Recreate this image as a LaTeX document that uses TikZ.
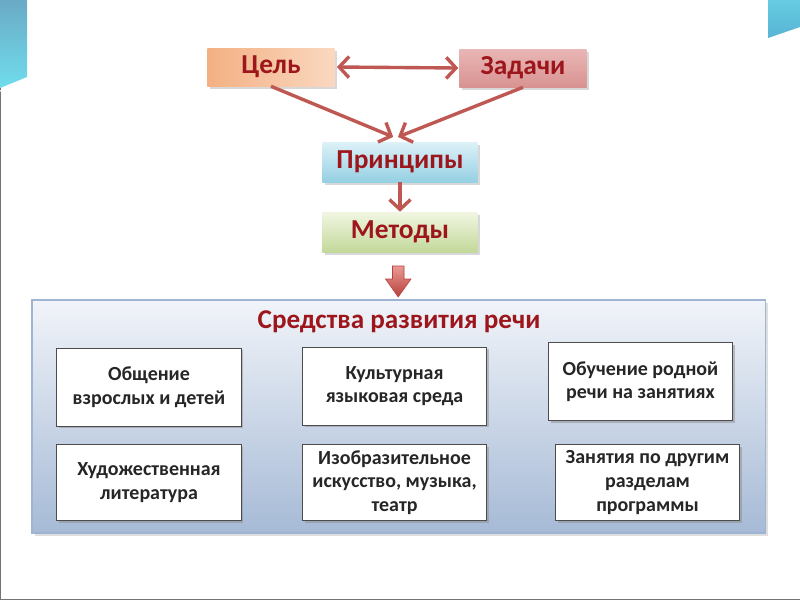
\documentclass[tikz,border=0pt]{standalone}
\usepackage{fontspec}
\setmainfont{Carlito}
\usetikzlibrary{arrows.meta,shadows}

\definecolor{titlered}{HTML}{9C161C}
\definecolor{linkred}{HTML}{BF5752}
\definecolor{decoA}{HTML}{6AAAC6}
\definecolor{decoB}{HTML}{70DDEC}
\definecolor{decoC}{HTML}{58B4D4}
\definecolor{tselA}{HTML}{F3B083}
\definecolor{tselB}{HTML}{FAD8C0}
\definecolor{zadA}{HTML}{E9B7B6}
\definecolor{zadB}{HTML}{D89391}
\definecolor{prinA}{HTML}{DDF1F8}
\definecolor{prinB}{HTML}{95D0E3}
\definecolor{metA}{HTML}{F1F6E2}
\definecolor{metB}{HTML}{C3D89A}
\definecolor{panelA}{HTML}{F1F4F9}
\definecolor{panelB}{HTML}{A6BAD6}
\definecolor{panelline}{HTML}{9FB4D3}
\definecolor{bigA}{HTML}{E99A93}
\definecolor{bigB}{HTML}{B8403C}

\tikzset{
  head/.style={text=titlered, font=\fontsize{19.5}{22}\selectfont\bfseries,
    minimum width=3.18cm, minimum height=0.95cm,
    drop shadow={shadow xshift=0.07cm, shadow yshift=-0.07cm, fill=black!30}},
  item/.style={draw=black!70, fill=white, line width=0.7pt, align=center,
    text=black!85, font=\fontsize{14.2}{16.8}\selectfont\bfseries,
    minimum width=4.6cm, minimum height=1.95cm,
    drop shadow={shadow xshift=0.06cm, shadow yshift=-0.06cm, fill=black!45}},
  link/.style={draw=linkred, line width=2.4pt,
    -{Straight Barb[length=7pt,width=15pt]}},
}

\begin{document}
\begin{tikzpicture}[x=0.025cm,y=-0.025cm]
\useasboundingbox (0,0) rectangle (800,600);
\fill [white] (0,0) rectangle (800,600);
\draw [black!55, line width=0.6pt] (0.3,0) -- (0.3,599.7) -- (800,599.7);
\shade [top color=decoA, bottom color=decoB] (0,0) -- (27,0) -- (27,77) -- (0,88) -- cycle;
\draw [white, line width=0.8pt] (0,91) -- (27,80);
\shade [top color=decoB!60!decoC, bottom color=decoC] (768,0) -- (800,0) -- (800,27) -- (768,38) -- cycle;

% top of the scheme
\node [head, left color=tselA, right color=tselB]                  (tsel)    at (271,67) {Цель};
\node [head, top color=zadA, bottom color=zadB]                    (zadachi) at (523,68) {Задачи};
\node [head, minimum width=3.88cm, minimum height=1.0cm,
       top color=prinA, bottom color=prinB]                        (prin)    at (400,162) {Принципы};
\node [head, minimum width=3.88cm, minimum height=1.0cm,
       top color=metA, bottom color=metB]                          (metody)  at (400,232) {Методы};

\draw [link, {Straight Barb[length=7pt,width=15pt]}-{Straight Barb[length=7pt,width=15pt]}]
    ([xshift=0.05cm]tsel.east) -- ([xshift=-0.02cm]zadachi.west);
\draw [link] (tsel.south) -- ([xshift=-0.17cm,yshift=0.12cm]prin.north);
\draw [link] (zadachi.south) -- ([xshift=-0.05cm,yshift=0.12cm]prin.north);
\draw [link] (prin.south) -- (metody.north);

% big arrow down
\shade [top color=bigA, bottom color=bigB, draw=bigB, line width=0.4pt]
    (392.5,266) -- (404,266) -- (404,279) -- (411,279) -- (398.2,297)
    -- (385.5,279) -- (392.5,279) -- cycle;

% panel
\node [draw=panelline, line width=1pt, top color=panelA, bottom color=panelB,
       minimum width=18.33cm, minimum height=5.83cm,
       drop shadow={shadow xshift=0.08cm, shadow yshift=-0.08cm, fill=black!25}] (panel) at (398.5,416.5) {};
\node [text=titlered, font=\fontsize{19.3}{22}\selectfont\bfseries] (sredstva) at (399,322) {Средства развития речи};

\node [item] (b1) at (149,387)   {Общение\\ взрослых и детей};
\node [item] (b2) at (394.5,386) {Культурная\\ языковая среда};
\node [item] (b3) at (640.5,381.5) {Обучение родной\\ речи на занятиях};
\node [item, minimum height=1.88cm] (b4) at (149,482.5)   {Художественная\\ литература};
\node [item, minimum height=1.88cm] (b5) at (394.5,482.5) {Изобразительное\\ искусство, музыка,\\ театр};
\node [item, minimum height=1.88cm] (b6) at (647.5,482.5) {Занятия по другим\\ разделам\\ программы};
\end{tikzpicture}
\end{document}
